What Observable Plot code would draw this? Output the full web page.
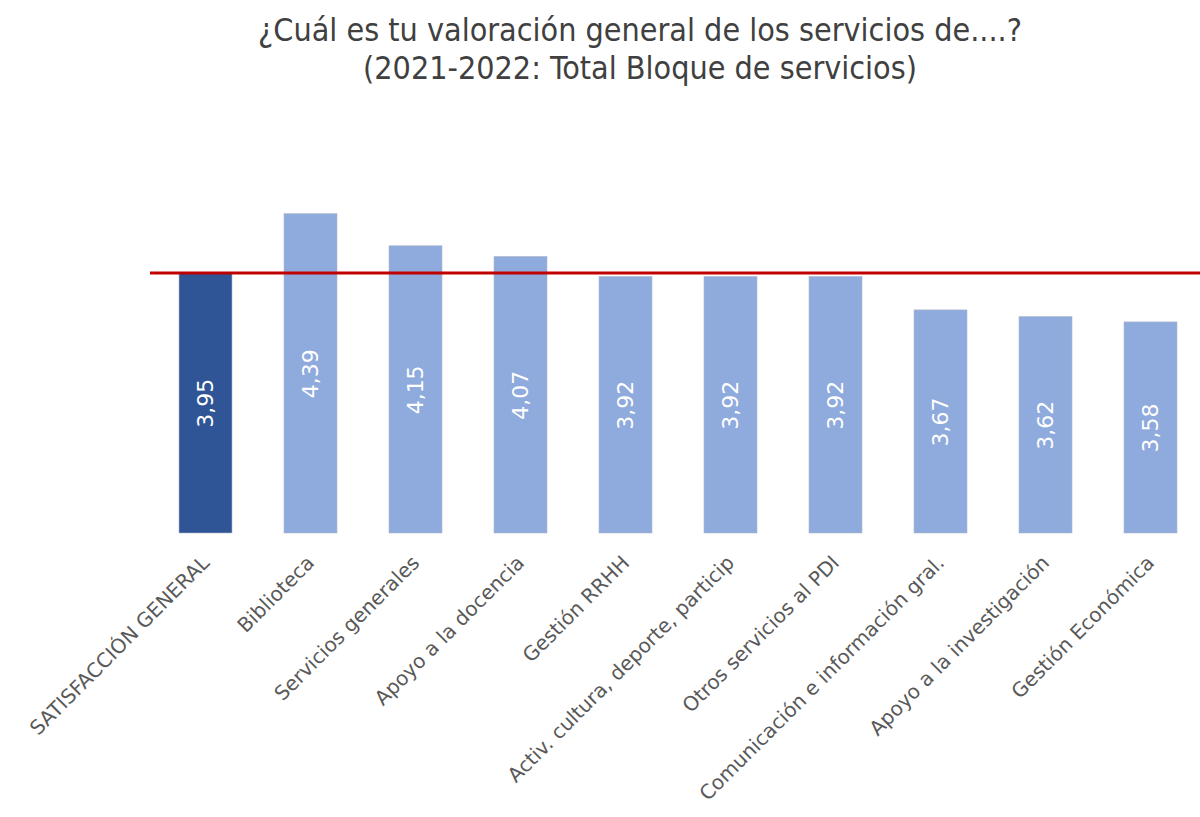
<!DOCTYPE html>
<html>
<head>
<meta charset="utf-8">
<script src="https://cdn.jsdelivr.net/npm/d3@7"></script>
<script src="https://cdn.jsdelivr.net/npm/@observablehq/plot@0.6"></script>
<style>
  html, body { margin: 0; padding: 0; background: #fff; }
  #title { height: 100px; box-sizing: border-box; padding-top: 11px; text-align: center;
    font-family: "Liberation Sans Narrow", "DejaVu Sans Condensed", sans-serif; font-size: 32px;
    line-height: 38px; color: #404040; width: 1280px; }
  #chart svg { display: block; }
</style>
</head>
<body>
<div id="title">¿Cuál es tu valoración general de los servicios de....?<br>(2021-2022: Total Bloque de servicios)</div>
<div id="chart"></div>
<script>
const categories = ["SATISFACCIÓN GENERAL", "Biblioteca", "Servicios generales", "Apoyo a la docencia", "Gestión RRHH", "Activ. cultura, deporte, particip", "Otros servicios al PDI", "Comunicación e información gral.", "Apoyo a la investigación", "Gestión Económica"];
const values = [3.95, 4.39, 4.15, 4.07, 3.92, 3.92, 3.92, 3.67, 3.62, 3.58];
const isGeneral = [true, false, false, false, false, false, false, false, false, false];
const baseline = 2;
const reference = 3.95;

const data = categories.map((c, i) => ({category: c, value: values[i], general: isGeneral[i]}));
const fmt = v => v.toFixed(2).replace(".", ",");

const chart = Plot.plot({
  width: 1200,
  height: 717,
  marginLeft: 150,
  marginRight: 0,
  marginTop: 99,
  marginBottom: 284,
  x: {domain: categories, range: [150, 1206], paddingInner: 0.5, paddingOuter: 0.25, label: null},
  y: {domain: [2, 4.5], axis: null},
  style: {fontFamily: "DejaVu Sans, sans-serif", background: "#fff"},
  marks: [
    Plot.barY(data, {x: "category", y1: baseline, y2: "value",
      fill: d => d.general ? "#2F5597" : "#8FAADC", stroke: "#b0b8c8", strokeWidth: 0.6}),
    Plot.text(data, {x: "category", y: d => (baseline + d.value) / 2, text: d => fmt(d.value),
      rotate: -90, fill: "white", fontSize: 22}),
    Plot.ruleY([reference], {stroke: "#C00000", strokeWidth: 3}),
    Plot.axisX({tickSize: 0, tickRotate: -45, tickPadding: 26, fontSize: 20, color: "#595959", label: null})
  ]
});
document.getElementById("chart").appendChild(chart);
</script>
</body>
</html>
